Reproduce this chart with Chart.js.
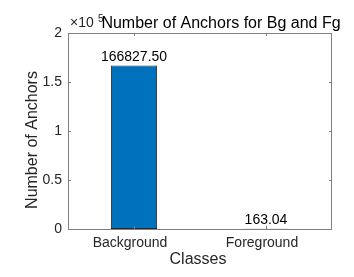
<!DOCTYPE html>
<html>
<head>
<meta charset="utf-8">
<script src="https://cdn.jsdelivr.net/npm/chart.js@4/dist/chart.umd.min.js"></script>
<style>
  html, body { margin: 0; padding: 0; background: #fff; }
  #wrap { width: 354px; height: 277px; }
</style>
</head>
<body>
<div id="wrap"><canvas id="anchorChart" width="354" height="277"></canvas></div>
<script>
// Data
const classes = ['Background', 'Foreground'];
const anchorCounts = [166827.50, 163.04];
const yTicks = [0, 50000, 100000, 150000, 200000];

const FONT = '"Liberation Sans", Arial, Helvetica, sans-serif';
const AXIS_GRAY = '#808080';
const TEXT = '#262626';

// MATLAB style: box, inward tick marks, labels, exponent
const matlabDecor = {
  id: 'matlabDecor',
  afterDatasetsDraw(chart) {
    const { ctx, chartArea: a, scales: { x, y } } = chart;
    ctx.save();

    // box
    ctx.strokeStyle = AXIS_GRAY;
    ctx.lineWidth = 1;
    ctx.strokeRect(Math.round(a.left) + 0.5, Math.round(a.top) + 0.5,
      Math.round(a.right - a.left) - 1, Math.round(a.bottom - a.top));

    // tick marks (inward, both sides)
    const tl = 3;
    ctx.beginPath();
    classes.forEach((c, i) => {
      const px = Math.round(x.getPixelForValue(i)) + 0.5;
      ctx.moveTo(px, a.bottom); ctx.lineTo(px, a.bottom - tl);
      ctx.moveTo(px, a.top); ctx.lineTo(px, a.top + tl);
    });
    yTicks.forEach(v => {
      const py = Math.round(y.getPixelForValue(v)) + 0.5;
      ctx.moveTo(a.left, py); ctx.lineTo(a.left + tl, py);
      ctx.moveTo(a.right, py); ctx.lineTo(a.right - tl, py);
    });
    ctx.stroke();

    // value labels over bars
    ctx.fillStyle = '#000';
    ctx.font = '14px ' + FONT;
    ctx.textAlign = 'center';
    ctx.textBaseline = 'alphabetic';
    chart.getDatasetMeta(0).data.forEach((bar, i) => {
      ctx.fillText(anchorCounts[i].toFixed(2), bar.x, bar.y - 5);
    });

    // exponent
    ctx.fillStyle = TEXT;
    ctx.textAlign = 'left';
    ctx.font = '14px ' + FONT;
    ctx.fillText('\u00d710', 70, 27);
    ctx.font = '10px ' + FONT;
    ctx.fillText('5', 98, 22);

    // title
    ctx.fillStyle = '#000';
    ctx.font = '16px ' + FONT;
    ctx.textAlign = 'center';
    ctx.fillText('Number of Anchors for Bg and Fg', 221, 28);

    // axis labels
    ctx.fillStyle = TEXT;
    ctx.textBaseline = 'middle';
    ctx.fillText('Classes', 198, 260);
    ctx.translate(33, 140);
    ctx.rotate(-Math.PI / 2);
    ctx.fillText('Number of Anchors', 0, 0);

    ctx.restore();
  }
};

new Chart(document.getElementById('anchorChart'), {
  type: 'bar',
  data: {
    labels: classes,
    datasets: [{
      data: anchorCounts,
      backgroundColor: '#0072BD',
      borderColor: '#2a2a2a',
      borderWidth: 1,
      borderSkipped: false,
      barPercentage: 0.35,
      categoryPercentage: 1
    }]
  },
  options: {
    responsive: false,
    animation: false,
    devicePixelRatio: 1,
    layout: { padding: { left: 0, top: 33, right: 22, bottom: 0 } },
    plugins: { legend: { display: false }, tooltip: { enabled: false } },
    scales: {
      x: {
        grid: { display: false, drawTicks: false },
        border: { display: false },
        ticks: { color: TEXT, font: { family: FONT, size: 14 }, padding: 6, labelOffset: -4, maxRotation: 0 },
        afterFit: s => { s.height = 48; }
      },
      y: {
        min: 0,
        max: 200000,
        afterBuildTicks: s => { s.ticks = yTicks.map(v => ({ value: v })); },
        grid: { display: false, drawTicks: false },
        border: { display: false },
        ticks: {
          color: TEXT,
          font: { family: FONT, size: 14 },
          padding: 6,
          callback: v => String(v / 1e5)
        },
        afterFit: s => { s.width = 68; }
      }
    }
  },
  plugins: [matlabDecor]
});
</script>
</body>
</html>
